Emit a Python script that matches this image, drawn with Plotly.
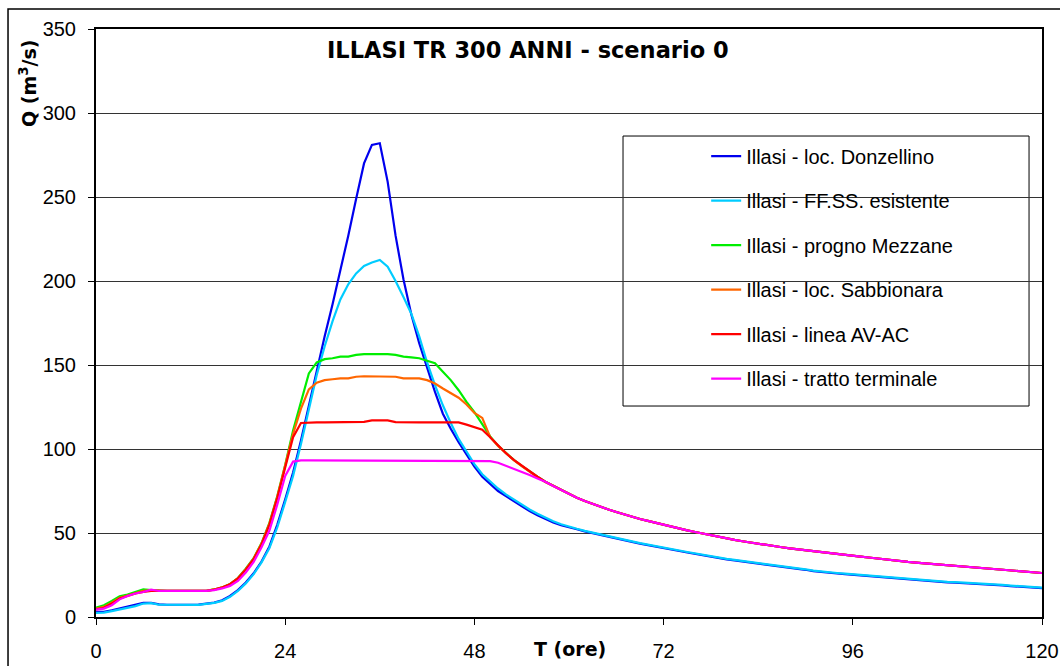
import plotly.graph_objects as go

# ---- data (hourly hydrographs, T in hours, Q in m3/s) ----
hours = list(range(0, 121))

q_donzellino = [
    3.0, 3.1, 4.0, 5.0, 6.0, 7.0, 8.4, 8.4, 7.5, 7.3,
    7.3, 7.3, 7.3, 7.4, 8.0, 8.6, 10.0, 12.5, 16.0, 20.5,
    26.0, 33.0, 42.0, 55.0, 70.0, 86.0, 105.0, 126.0, 147.0, 167.0,
    186.0, 206.0, 227.0, 249.0, 270.0, 281.0, 282.0, 259.0, 227.0, 201.0,
    180.0, 163.0, 148.0, 134.0, 121.0, 112.0, 104.0, 97.0, 89.5, 83.5,
    79.0, 75.0, 72.0, 69.0, 65.5, 63.0, 60.5, 58.3, 56.3, 54.6,
    53.2, 52.2, 51.0, 49.9, 48.7, 47.7, 46.7, 45.7, 44.7, 43.7,
    42.9, 42.0, 41.2, 40.2, 39.3, 38.4, 37.5, 36.7, 35.9, 35.1,
    34.3, 33.7, 33.1, 32.5, 32.0, 31.4, 30.9, 30.2, 29.5, 28.8,
    28.1, 27.3, 26.7, 26.3, 25.9, 25.5, 25.1, 24.7, 24.3, 23.9,
    23.5, 23.1, 22.7, 22.3, 21.9, 21.5, 21.2, 20.9, 20.6, 20.4,
    20.2, 20.0, 19.8, 19.6, 19.2, 18.8, 18.4, 18.0, 17.7, 17.4,
    17.2,
]

q_ffss = [
    2.4, 2.6, 3.5, 4.5, 5.5, 6.5, 8.0, 8.2, 7.3, 7.2,
    7.2, 7.2, 7.2, 7.2, 7.8, 8.4, 9.6, 12.0, 15.5, 20.0,
    25.5, 32.5, 41.0, 53.5, 68.5, 84.0, 103.0, 124.0, 144.0, 161.0,
    176.0, 189.0, 198.0, 204.5, 209.0, 211.0, 212.5, 208.5, 200.0, 190.5,
    180.5, 167.0, 151.5, 138.0, 126.0, 115.5, 106.0, 98.5, 91.0, 85.0,
    80.5, 76.5, 73.0, 70.0, 66.5, 64.0, 61.5, 59.0, 57.0, 55.2,
    53.7, 52.5, 51.3, 50.2, 49.0, 48.0, 47.0, 46.0, 45.0, 44.0,
    43.2, 42.3, 41.5, 40.5, 39.6, 38.7, 37.8, 37.0, 36.2, 35.4,
    34.6, 34.0, 33.4, 32.8, 32.3, 31.7, 31.2, 30.5, 29.8, 29.1,
    28.4, 27.6, 27.0, 26.6, 26.2, 25.8, 25.4, 25.0, 24.6, 24.2,
    23.8, 23.4, 23.0, 22.6, 22.2, 21.8, 21.5, 21.2, 20.9, 20.7,
    20.5, 20.3, 20.1, 19.9, 19.5, 19.1, 18.7, 18.3, 18.0, 17.7,
    17.5,
]

# hours 0..57
q_mezzane_head = [
    5.6, 7.0, 9.5, 12.3, 13.3, 14.8, 16.5, 16.0, 15.6, 15.5,
    15.5, 15.5, 15.5, 15.5, 15.6, 16.4, 17.6, 19.6, 23.2, 28.8,
    35.0, 44.0, 56.0, 72.0, 90.5, 111.0, 128.0, 145.0, 151.5, 153.5,
    154.0, 155.0, 155.0, 156.0, 156.5, 156.5, 156.5, 156.5, 156.0, 155.0,
    154.5, 154.0, 152.5, 151.0, 146.0, 141.0, 135.0, 128.0, 122.0, 115.0,
    107.5, 102.0, 97.5, 93.5, 90.0, 86.5, 83.5, 80.5,
]

q_sabbionara_head = [
    5.0, 6.0, 8.5, 11.5, 12.8, 14.3, 15.5, 15.8, 15.5, 15.5,
    15.5, 15.5, 15.5, 15.5, 15.6, 16.4, 17.6, 19.5, 23.0, 28.5,
    34.8, 43.7, 55.6, 71.5, 90.0, 109.0, 124.0, 135.5, 139.5, 141.0,
    141.5, 142.0, 142.0, 143.0, 143.3, 143.3, 143.3, 143.3, 143.0, 142.0,
    142.0, 142.0, 141.0, 139.0, 136.0, 133.0, 130.5, 126.5, 121.5, 118.5,
    107.0, 101.8, 97.3, 93.3, 89.8, 86.3, 83.3, 80.3,
]

q_avac_head = [
    4.5, 5.5, 8.0, 11.0, 12.5, 14.0, 15.0, 15.5, 15.5, 15.5,
    15.5, 15.5, 15.5, 15.5, 15.6, 16.3, 17.5, 19.5, 23.0, 28.2,
    34.5, 43.2, 55.0, 71.0, 89.0, 107.0, 115.5, 115.8, 115.8, 115.8,
    115.8, 115.8, 115.8, 115.8, 116.2, 117.0, 117.0, 117.0, 116.0, 115.8,
    115.8, 115.8, 115.8, 115.8, 115.8, 115.8, 115.8, 114.5, 113.0, 111.5,
    107.0, 102.0, 97.5, 93.5, 90.0, 86.5, 83.5, 80.5,
]

q_terminale_head = [
    4.4, 5.0, 7.0, 10.5, 12.5, 14.0, 14.9, 16.3, 15.5, 15.5,
    15.5, 15.5, 15.5, 15.5, 15.5, 16.0, 17.0, 18.5, 21.5, 26.5,
    32.8, 41.5, 51.5, 67.0, 84.0, 92.5, 93.2, 93.2, 93.2, 93.2,
    93.2, 93.2, 93.2, 93.2, 93.2, 93.2, 93.2, 93.2, 93.2, 93.2,
    93.2, 93.2, 93.2, 93.2, 93.2, 93.2, 93.2, 93.2, 93.2, 93.2,
    92.8, 91.8, 90.0, 88.5, 86.5, 84.5, 82.5, 80.5,
]

# hours 58..120, common recession of the downstream sections
q_downstream_tail = [
    78.0, 75.5, 73.0, 71.0, 69.0, 67.2, 65.5, 64.0, 62.5, 61.0,
    59.6, 58.3, 57.2, 56.0, 55.0, 53.8, 52.7, 51.6, 50.6, 49.6,
    48.6, 47.6, 46.7, 45.9, 45.1, 44.3, 43.6, 42.9, 42.2, 41.5,
    40.9, 40.3, 39.8, 39.2, 38.7, 38.1, 37.5, 37.0, 36.4, 35.9,
    35.4, 34.8, 34.3, 33.8, 33.2, 32.8, 32.4, 32.0, 31.6, 31.2,
    30.8, 30.4, 30.0, 29.6, 29.2, 28.9, 28.5, 28.1, 27.7, 27.3,
    27.0, 26.6, 26.2,
]

series_names = [
    "Illasi - loc. Donzellino",
    "Illasi - FF.SS. esistente",
    "Illasi - progno Mezzane",
    "Illasi - loc. Sabbionara",
    "Illasi - linea AV-AC",
    "Illasi - tratto terminale",
]
series_values = [
    q_donzellino,
    q_ffss,
    q_mezzane_head + q_downstream_tail,
    q_sabbionara_head + q_downstream_tail,
    q_avac_head + q_downstream_tail,
    q_terminale_head + q_downstream_tail,
]
series_colors = ["#0000EE", "#00CCFF", "#00EE00", "#FF6600", "#FF0000", "#FF00FF"]

x_ticks = [0, 24, 48, 72, 96, 120]
y_ticks = [0, 50, 100, 150, 200, 250, 300, 350]

title_text = "ILLASI TR 300 ANNI - scenario 0"
x_title = "T (ore)"
y_title = "Q (m<sup>3</sup>/s)"

# ---- figure ----
fig = go.Figure()
for i, (name, vals, col) in enumerate(zip(series_names, series_values, series_colors)):
    fig.add_trace(go.Scatter(
        x=hours, y=vals, mode="lines", name=name,
        line=dict(color=col, width=2.2),
        legendgroup="g%d" % i,
    ))

base_font = "Liberation Sans, Arial, sans-serif"
bold_font = "DejaVu Sans, Liberation Sans, Arial, sans-serif"

fig.update_layout(
    width=1060, height=666,
    margin=dict(l=96, r=18, t=29, b=49, pad=0, autoexpand=False),
    paper_bgcolor="white", plot_bgcolor="white",
    font=dict(family=base_font, size=20, color="black"),
    showlegend=True,
    legend=dict(
        x=0.645, y=0.817, xanchor="left", yanchor="top",
        bgcolor="rgba(0,0,0,0)", borderwidth=0,
        font=dict(family=base_font, size=20, color="black"),
        tracegroupgap=15.5, traceorder="grouped",
    ),
    xaxis=dict(
        range=[0, 120], tickvals=x_ticks, ticktext=[str(v) for v in x_ticks],
        showgrid=False, zeroline=False, automargin=False,
        showline=True, linecolor="black", linewidth=2, mirror=True,
        ticks="outside", ticklen=6, tickwidth=1, tickcolor="black",
        tickfont=dict(family=base_font, size=20, color="black"),
        ticklabelstandoff=9,
    ),
    yaxis=dict(
        range=[0, 350], tickvals=y_ticks, ticktext=[str(v) for v in y_ticks],
        showgrid=True, gridcolor="#333333", gridwidth=1, zeroline=False,
        automargin=False,
        showline=True, linecolor="black", linewidth=2, mirror=True,
        ticks="outside", ticklen=6, tickwidth=1, tickcolor="black",
        tickfont=dict(family=base_font, size=20, color="black"),
        ticklabelstandoff=8,
    ),
    shapes=[
        # outer chart frame
        dict(type="rect", xref="paper", yref="paper",
             x0=-0.093, x1=1.04, y0=-0.15, y1=1.034,
             line=dict(color="black", width=1.5), fillcolor="rgba(0,0,0,0)",
             layer="above"),
        # legend box
        dict(type="rect", xref="paper", yref="paper",
             x0=0.5571, x1=0.9863, y0=0.3588, y1=0.818,
             line=dict(color="black", width=1), fillcolor="white",
             layer="below"),
    ],
    annotations=[
        dict(text="<b>%s</b>" % title_text, xref="paper", yref="paper",
             x=0.4567, y=0.964, xanchor="center", yanchor="middle",
             showarrow=False, font=dict(family=bold_font, size=22.5, color="black")),
        dict(text="<b>%s</b>" % x_title, xref="paper", yref="paper",
             x=0.501, y=-0.054, xanchor="center", yanchor="middle",
             showarrow=False, font=dict(family=bold_font, size=19, color="black")),
        dict(text="<b>%s</b>" % y_title, xref="paper", yref="paper",
             x=-0.072, y=0.908, xanchor="center", yanchor="middle", textangle=-90,
             showarrow=False, font=dict(family=bold_font, size=19, color="black")),
    ],
)

fig.write_html("out.html")
